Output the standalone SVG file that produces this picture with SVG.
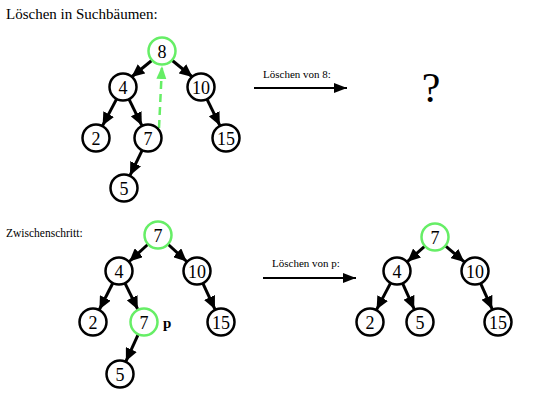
<svg xmlns="http://www.w3.org/2000/svg" width="555" height="416" viewBox="0 0 555 416" font-family="'Liberation Serif', 'Times New Roman', 'DejaVu Serif', serif">
<style>
.n circle{fill:#fff;stroke:#000;stroke-width:2.5}
.n.g circle{stroke:#66ee66}
.n text{font-size:18px;text-anchor:middle;fill:#000}
.e line{stroke:#000;stroke-width:3;marker-end:url(#ah)}
.e line.d{stroke:#66ee66;stroke-width:2.5;stroke-dasharray:8 5;marker-end:url(#ahg)}
.e line.a{stroke-width:2;marker-end:url(#ah2)}
.t{fill:#000}
</style>
<defs>
<marker id="ah" markerUnits="userSpaceOnUse" markerWidth="14" markerHeight="12" viewBox="0 0 14 12" refX="13" refY="6" orient="auto"><path d="M0,0 L13,6 L0,12 z" fill="#000"/></marker>
<marker id="ah2" markerUnits="userSpaceOnUse" markerWidth="14" markerHeight="12" viewBox="0 0 14 12" refX="13" refY="6" orient="auto"><path d="M0,1 L13,6 L0,11 z" fill="#000"/></marker>
<marker id="ahg" markerUnits="userSpaceOnUse" markerWidth="14" markerHeight="12" viewBox="0 0 14 12" refX="13" refY="6" orient="auto"><path d="M0,1 L13,6 L0,11 z" fill="#66ee66"/></marker>
</defs>
<rect width="555" height="416" fill="#fff"/>
<text class="t" x="6" y="19" font-size="15">Löschen in Suchbäumen:</text>
<text class="t" x="6" y="237" font-size="11.5">Zwischenschritt:</text>
<g id="connectors" class="e">
<line x1="151.7" y1="60.5" x2="131.5" y2="77"/>
<line x1="172.3" y1="60.5" x2="192.5" y2="77"/>
<line x1="116.4" y1="99.4" x2="102.6" y2="125.6"/>
<line x1="129.2" y1="99.6" x2="141.8" y2="125.4"/>
<line x1="207.2" y1="99.6" x2="219.8" y2="125.4"/>
<line x1="142" y1="150.6" x2="130" y2="175.4"/>
<line class="d" x1="159" y1="128" x2="162" y2="66"/>
<line class="a" x1="254" y1="88" x2="347" y2="88"/>
<line x1="147.7" y1="244.5" x2="129.3" y2="261.5"/>
<line x1="168.3" y1="244.5" x2="186.7" y2="261.5"/>
<line x1="112.6" y1="283.5" x2="99.4" y2="309.5"/>
<line x1="125.2" y1="283.6" x2="137.8" y2="309.4"/>
<line x1="203" y1="283.7" x2="215" y2="309.3"/>
<line x1="138.1" y1="334.7" x2="125.9" y2="361.3"/>
<line class="a" x1="263" y1="278" x2="356" y2="278"/>
<line x1="424.6" y1="246.3" x2="407.4" y2="261.7"/>
<line x1="445.7" y1="246.1" x2="464.3" y2="261.9"/>
<line x1="390.4" y1="283.4" x2="376.6" y2="309.6"/>
<line x1="402.8" y1="283.8" x2="414.2" y2="309.2"/>
<line x1="480.8" y1="283.8" x2="492.2" y2="309.2"/>
</g>
<text class="t" x="297" y="78" font-size="11" text-anchor="middle">Löschen von 8:</text>
<text class="t" x="306" y="267" font-size="11" text-anchor="middle">Löschen von p:</text>
<text class="t" x="431" y="102" font-size="42" text-anchor="middle">?</text>
<g id="t1-8" class="n g"><circle cx="162" cy="51" r="13.5"/><text x="162" y="57.5">8</text></g>
<g id="t1-4" class="n"><circle cx="123" cy="87" r="13.5"/><text x="123" y="93.5">4</text></g>
<g id="t1-10" class="n"><circle cx="201" cy="87" r="13.5"/><text x="201" y="93.5">10</text></g>
<g id="t1-2" class="n"><circle cx="96" cy="138" r="13.5"/><text x="96" y="144.5">2</text></g>
<g id="t1-7" class="n"><circle cx="148" cy="138" r="13.5"/><text x="148" y="144.5">7</text></g>
<g id="t1-15" class="n"><circle cx="226" cy="138" r="13.5"/><text x="226" y="144.5">15</text></g>
<g id="t1-5" class="n"><circle cx="124" cy="188" r="13.5"/><text x="124" y="194.5">5</text></g>
<g id="t2-7" class="n g"><circle cx="158" cy="235" r="13.5"/><text x="158" y="241.5">7</text></g>
<g id="t2-4" class="n"><circle cx="119" cy="271" r="13.5"/><text x="119" y="277.5">4</text></g>
<g id="t2-10" class="n"><circle cx="197" cy="271" r="13.5"/><text x="197" y="277.5">10</text></g>
<g id="t2-2" class="n"><circle cx="93" cy="322" r="13.5"/><text x="93" y="328.5">2</text></g>
<g id="t2-7p" class="n g"><circle cx="144" cy="322" r="13.5"/><text x="144" y="328.5">7</text></g>
<g id="t2-15" class="n"><circle cx="221" cy="322" r="13.5"/><text x="221" y="328.5">15</text></g>
<g id="t2-5" class="n"><circle cx="120" cy="374" r="13.5"/><text x="120" y="380.5">5</text></g>
<text class="t" x="163" y="328" font-size="15" font-weight="bold">p</text>
<g id="t3-7" class="n g"><circle cx="435" cy="237" r="13.5"/><text x="435" y="243.5">7</text></g>
<g id="t3-4" class="n"><circle cx="397" cy="271" r="13.5"/><text x="397" y="277.5">4</text></g>
<g id="t3-10" class="n"><circle cx="475" cy="271" r="13.5"/><text x="475" y="277.5">10</text></g>
<g id="t3-2" class="n"><circle cx="370" cy="322" r="13.5"/><text x="370" y="328.5">2</text></g>
<g id="t3-5" class="n"><circle cx="420" cy="322" r="13.5"/><text x="420" y="328.5">5</text></g>
<g id="t3-15" class="n"><circle cx="498" cy="322" r="13.5"/><text x="498" y="328.5">15</text></g>
</svg>
